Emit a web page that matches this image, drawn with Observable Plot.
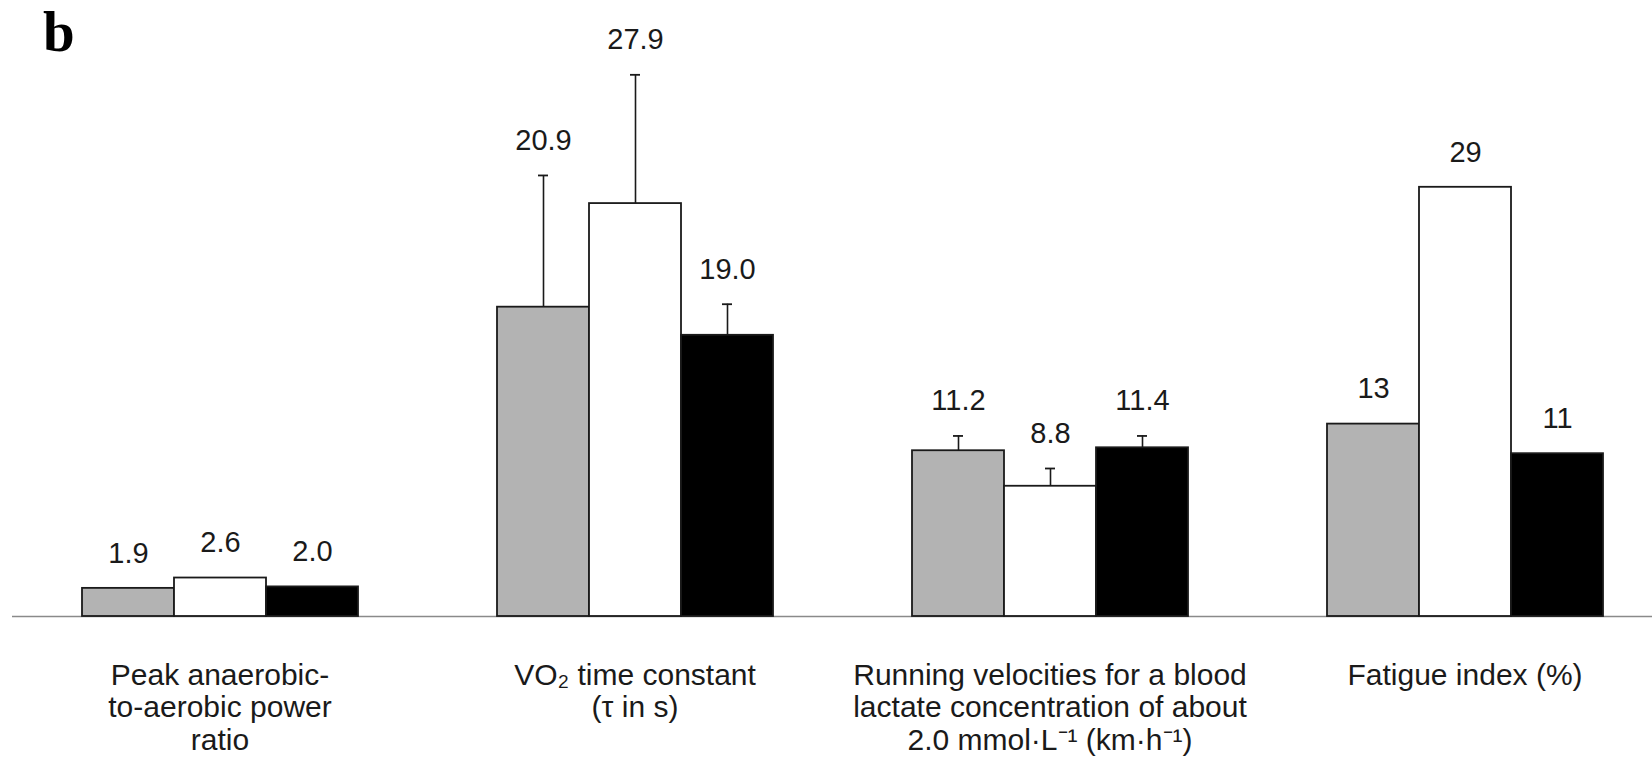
<!DOCTYPE html>
<html>
<head>
<meta charset="utf-8">
<script src="https://cdn.jsdelivr.net/npm/d3@7"></script>
<script src="https://cdn.jsdelivr.net/npm/@observablehq/plot@0.6"></script>
<style>
  body { margin: 0; background: #fff; }
  #wrap { position: relative; width: 1652px; height: 757px; overflow: hidden; }
  #panel { position: absolute; left: 43px; top: 3px; font: bold 57px/57px "Liberation Serif", "Times New Roman", serif; color: #000; }
  #chart { position: absolute; left: 0; top: 0; }
</style>
</head>
<body>
<div id="wrap">
  <div id="chart"></div>
  <div id="panel">b</div>
</div>
<script>
// ---- data ----
const categories = [
  "Peak anaerobic-\nto-aerobic power\nratio",
  "VO₂ time constant\n(τ in s)",
  "Running velocities for a blood\nlactate concentration of about\n2.0 mmol·L⁻¹ (km·h⁻¹)",
  "Fatigue index (%)"
];
const series = ["Group 1", "Group 2", "Group 3"];
const seriesColors = ["#b3b3b3", "#ffffff", "#000000"];

const group1Values = [1.9, 20.9, 11.2, 13];
const group2Values = [2.6, 27.9, 8.8, 29];
const group3Values = [2.0, 19.0, 11.4, 11];

const group1SD = [null, 8.9, 1.0, null];
const group2SD = [null, 8.7, 1.2, null];
const group3SD = [null, 2.1, 0.8, null];

const group1Labels = ["1.9", "20.9", "11.2", "13"];
const group2Labels = ["2.6", "27.9", "8.8", "29"];
const group3Labels = ["2.0", "19.0", "11.4", "11"];

// ---- table built from the arrays ----
const valueSets = [group1Values, group2Values, group3Values];
const sdSets = [group1SD, group2SD, group3SD];
const labelSets = [group1Labels, group2Labels, group3Labels];
const rows = [];
categories.forEach((c, i) => {
  series.forEach((s, j) => {
    rows.push({category: c, series: s, value: valueSets[j][i], sd: sdSets[j][i], label: labelSets[j][i]});
  });
});
const withSD = rows.filter(d => d.sd != null);

const ink = "#1a1a1a";

const chart = Plot.plot({
  width: 1672,
  height: 757,
  marginLeft: 12,
  marginRight: 0,
  marginTop: 24,
  marginBottom: 141,
  style: {fontFamily: "'Liberation Sans', Arial, sans-serif", background: "#fff"},
  fx: {domain: categories, padding: 0, axis: null},
  x: {domain: series, paddingInner: 0, paddingOuter: 0.75, axis: null},
  y: {domain: [0, 40], axis: null},
  color: {domain: series, range: seriesColors},
  marks: [
    Plot.ruleY([0], {stroke: "#8a8a8a", strokeWidth: 1.6}),
    Plot.barY(rows, {fx: "category", x: "series", y: "value", fill: "series", stroke: ink, strokeWidth: 1.8}),
    Plot.ruleX(withSD, {fx: "category", x: "series", y1: "value", y2: d => d.value + d.sd, stroke: ink, strokeWidth: 1.6}),
    Plot.tickY(withSD, {fx: "category", x: "series", y: d => d.value + d.sd, insetLeft: 41, insetRight: 41, stroke: ink, strokeWidth: 1.8}),
    Plot.text(rows, {fx: "category", x: "series", y: d => d.value + (d.sd ?? 0), text: "label", dy: -35, fontSize: 29, fill: ink}),
    Plot.text(categories, {fx: d => d, text: d => d, frameAnchor: "bottom", lineAnchor: "top", dy: 45, fontSize: 30, lineHeight: 1.09, fill: ink})
  ]
});
chart.style.maxWidth = "none";
document.getElementById("chart").appendChild(chart);
</script>
</body>
</html>
